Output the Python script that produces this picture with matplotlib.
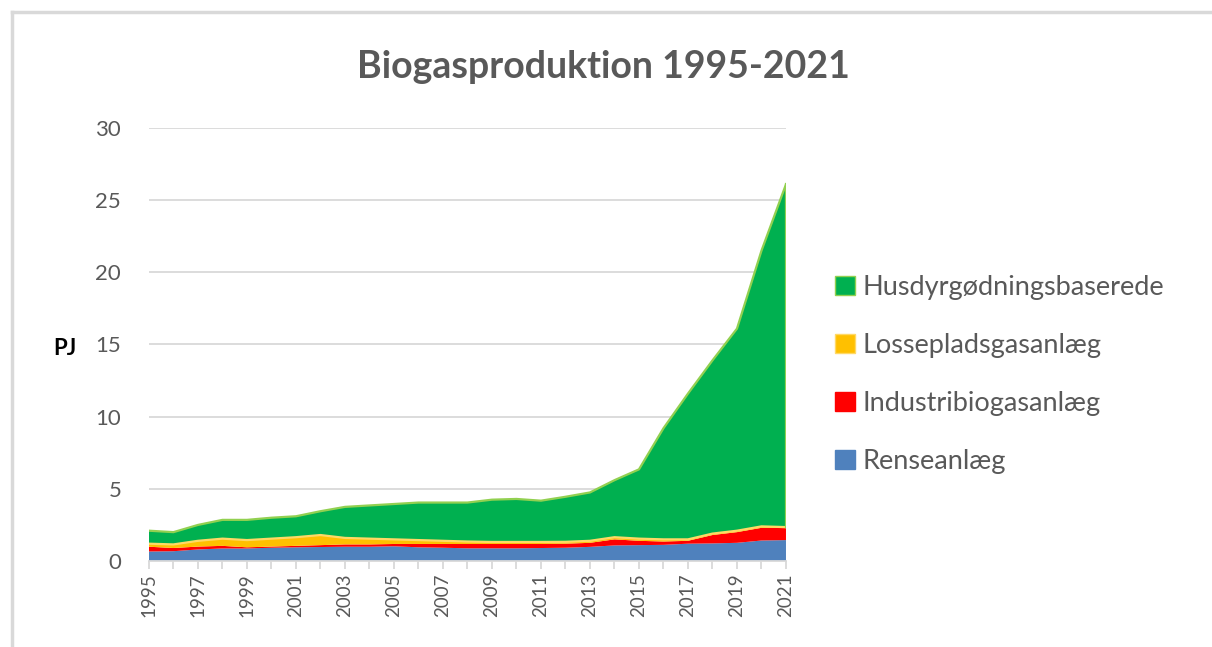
import numpy as np
import matplotlib.pyplot as plt
from matplotlib.patches import Patch
from matplotlib.lines import Line2D

# data (PJ)
years = list(range(1995, 2022))
renseanlaeg = [0.66, 0.68, 0.80, 0.87, 0.87, 0.92, 0.95, 0.97, 0.99, 0.99, 1.02, 0.95, 0.92, 0.88,
               0.88, 0.88, 0.90, 0.92, 0.98, 1.08, 1.10, 1.12, 1.20, 1.22, 1.26, 1.42, 1.45]
industri = [0.33, 0.22, 0.20, 0.18, 0.08, 0.08, 0.10, 0.13, 0.16, 0.16, 0.16, 0.23, 0.26, 0.30,
            0.30, 0.30, 0.28, 0.28, 0.28, 0.42, 0.30, 0.23, 0.20, 0.58, 0.74, 0.88, 0.83]
losseplads = [0.21, 0.25, 0.40, 0.50, 0.50, 0.55, 0.60, 0.70, 0.45, 0.40, 0.32, 0.27, 0.22, 0.17,
              0.14, 0.14, 0.14, 0.13, 0.14, 0.15, 0.15, 0.15, 0.10, 0.10, 0.10, 0.10, 0.07]
husdyr = [0.90, 0.85, 1.10, 1.30, 1.40, 1.45, 1.45, 1.65, 2.15, 2.30, 2.45, 2.60, 2.65, 2.70,
          2.93, 2.98, 2.86, 3.12, 3.35, 3.95, 4.80, 7.70, 10.1, 12.0, 14.0, 19.1, 23.75]

series_names = ['Renseanlæg', 'Industribiogasanlæg', 'Lossepladsgasanlæg', 'Husdyrgødningsbaserede']
colors = ['#4F81BD', '#FF0000', '#FFC000', '#00B050']
edge_colors = ['#4F81BD', '#FF0000', '#FFD966', '#92D050']

plt.rcParams['font.family'] = ['Lato', 'DejaVu Sans']
grey = '#595959'

fig = plt.figure(figsize=(12.12, 6.47), dpi=100)
ax = fig.add_axes([0.1229, 0.1329, 0.5256, 0.6693])

stack = np.vstack([renseanlaeg, industri, losseplads, husdyr])
ax.stackplot(years, stack, colors=colors, linewidth=0)
cum = np.cumsum(stack, axis=0)
for i in (2, 3):
    ax.plot(years, cum[i], color=edge_colors[i], lw=1.6, solid_joinstyle='round')
ax.plot([years[-1], years[-1]], [cum[2][-1], cum[3][-1]], color=edge_colors[3], lw=1.6)

ax.set_xlim(1995, 2021)
ax.set_ylim(0, 30)
ax.set_yticks(range(0, 31, 5))
ax.yaxis.grid(True, color='#D9D9D9', lw=1.3)
ax.set_axisbelow(True)
for s in ['top', 'right', 'left']:
    ax.spines[s].set_visible(False)
ax.spines['bottom'].set_color('#D9D9D9')
ax.spines['bottom'].set_linewidth(1.3)

ax.set_xticks(years, minor=True)
ax.set_xticks(years[::2])
ax.set_xticklabels([str(y) for y in years[::2]], rotation=90)
ax.tick_params(axis='x', which='both', length=6, color='#D9D9D9', width=1.3,
               labelsize=13.5, labelcolor=grey, pad=3)
ax.tick_params(axis='y', length=0, labelsize=16, labelcolor=grey, pad=20)

fig.text(0.498, 0.897, 'Biogasproduktion 1995-2021', ha='center', va='center',
         fontsize=27, fontweight='bold', color=grey)
fig.text(0.044, 0.462, 'PJ', ha='left', va='center', fontsize=16, fontweight='bold', color='black')

handles = [Patch(facecolor=colors[i], edgecolor=edge_colors[i], lw=1) for i in (3, 2, 1, 0)]
labels = [series_names[i] for i in (3, 2, 1, 0)]
leg = fig.legend(handles, labels, loc='center left', bbox_to_anchor=(0.678, 0.421),
                 frameon=False, fontsize=19.5, labelcolor=grey,
                 handlelength=0.72, handleheight=0.72, handletextpad=0.28,
                 labelspacing=1.22, borderpad=0)

# light outer frame of the chart object
fig.add_artist(Line2D([0.0099, 0.0099], [0, 0.981], color='#D9D9D9', lw=2.5, transform=fig.transFigure))
fig.add_artist(Line2D([0.0099, 1], [0.981, 0.981], color='#D9D9D9', lw=2.5, transform=fig.transFigure))

fig.savefig('out.png', dpi=100)
